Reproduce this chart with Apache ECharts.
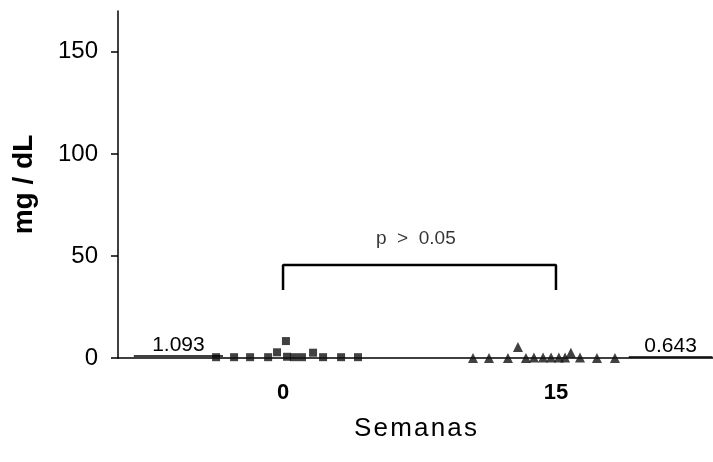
<!DOCTYPE html>
<html>
<head>
<meta charset="utf-8">
<title>mg / dL</title>
<script src="https://cdn.jsdelivr.net/npm/echarts@6/dist/echarts.min.js"></script>
<style>
  body { margin: 0; background: #fff; }
  #chart { width: 713px; height: 462px; }
</style>
</head>
<body>
<div id="chart"></div>
<script>
// grupos: semana 0 y semana 15 (x = posición dentro del grupo, dispersa)
var weekTicks = [0, 15];
var yTicks = [0, 50, 100, 150];

var week0X = [-3.68, -2.69, -1.81, -0.82, -0.33, 0.16, 0.22, 0.60, 1.04, 1.65, 2.20, 3.19, 4.12];
var week0Y = [0.4, 0.4, 0.4, 0.4, 2.8, 8.3, 0.6, 0.4, 0.4, 2.6, 0.4, 0.4, 0.4];

var week15X = [10.44, 11.32, 12.36, 12.91, 13.35, 13.79, 14.29, 14.73, 15.16, 15.50, 15.82, 16.32, 17.25, 18.24];
var week15Y = [0.0, 0.0, 0.0, 5.4, 0.0, 0.2, 0.2, 0.2, 0.2, 0.2, 2.6, 0.2, 0.0, 0.0];

var means = [1.093, 0.643];
var meanSpan = [[-8.2, -3.3], [19.0, 23.6]];

var bracketX = [0, 15];
var bracketTop = 45.6;
var bracketBottom = 33.3;
var pText = 'p  >  0.05';

var chart = echarts.init(document.getElementById('chart'));

function pair(xs, ys) {
    return xs.map(function (x, i) { return [x, ys[i]]; });
}

// espaciado entre letras (como en la figura escaneada)
function spaced(s) {
    return s.split('').join('\u200A');
}

function meanLine(i) {
    return {
        symbol: 'none',
        silent: true,
        lineStyle: { color: '#000', width: 1.5, type: 'solid' },
        label: {
            show: true,
            position: 'middle',
            distance: 0,
            color: '#000',
            fontSize: 21,
            fontFamily: 'Liberation Sans',
            formatter: function () { return means[i].toFixed(3); }
        },
        data: [[{ coord: [meanSpan[i][0], means[i]] }, { coord: [meanSpan[i][1], means[i]] }]]
    };
}

chart.setOption({
    animation: false,
    backgroundColor: '#fff',
    grid: { left: 118, right: 0, top: 11, bottom: 104 },
    xAxis: {
        type: 'value',
        min: -9.07,
        max: 23.63,
        splitLine: { show: false },
        axisLine: { onZero: false, lineStyle: { color: '#000', width: 1.5 } },
        axisTick: { show: false },
        axisLabel: {
            customValues: weekTicks,
            margin: 24,
            color: '#000',
            fontSize: 22,
            fontWeight: 'bold',
            fontFamily: 'Liberation Sans'
        },
        name: spaced('Semanas'),
        nameLocation: 'middle',
        nameGap: 58,
        nameTextStyle: { color: '#000', fontSize: 26, fontFamily: 'Liberation Sans' }
    },
    yAxis: {
        type: 'value',
        min: 0,
        max: 170,
        interval: 50,
        splitLine: { show: false },
        axisLine: { show: true, onZero: false, lineStyle: { color: '#000', width: 1.5 } },
        axisTick: { show: true, length: 7, lineStyle: { color: '#000', width: 1.5 } },
        axisLabel: {
            showMaxLabel: false,
            margin: 20,
            color: '#000',
            fontSize: 24,
            fontFamily: 'Liberation Sans',
            formatter: function (v) { return yTicks.indexOf(v) >= 0 ? String(v) : ''; }
        },
        name: 'mg / dL',
        nameLocation: 'middle',
        nameGap: 80,
        nameTextStyle: { color: '#000', fontSize: 28, fontWeight: 'bold', fontFamily: 'Liberation Sans' }
    },
    series: [
        {
            name: 'Semana 0',
            type: 'scatter',
            symbol: 'rect',
            symbolSize: 8,
            itemStyle: { color: '#111' },
            data: pair(week0X, week0Y),
            markLine: meanLine(0)
        },
        {
            name: 'Semana 15',
            type: 'scatter',
            symbol: 'triangle',
            symbolSize: 10,
            itemStyle: { color: '#111' },
            data: pair(week15X, week15Y),
            markLine: meanLine(1)
        },
        {
            name: 'bracket',
            type: 'line',
            symbol: 'none',
            silent: true,
            lineStyle: { color: '#000', width: 2.5 },
            data: [[bracketX[0], bracketBottom], [bracketX[0], bracketTop], [bracketX[1], bracketTop], [bracketX[1], bracketBottom]]
        },
        {
            name: 'p',
            type: 'scatter',
            symbolSize: 0,
            silent: true,
            label: {
                show: true,
                position: 'inside',
                color: '#000',
                fontSize: 19,
                fontFamily: 'Liberation Sans',
                formatter: function () { return pText; }
            },
            data: [[(bracketX[0] + bracketX[1]) / 2 - 0.2, bracketTop + 13]]
        }
    ]
});
</script>
</body>
</html>
